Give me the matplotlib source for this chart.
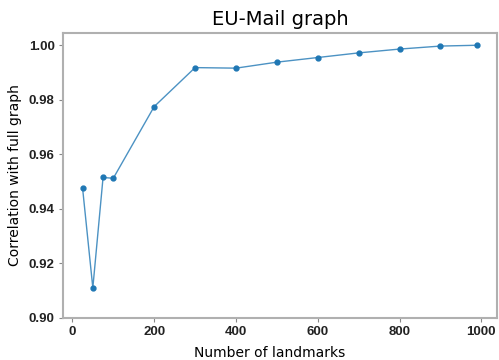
import numpy as np
import matplotlib.pyplot as plt

# landmark counts and correlation with the full graph
landmarks = [25, 50, 75, 100, 200, 300, 400, 500, 600, 700, 800, 900, 990]
correlation = [0.9475, 0.911, 0.9515, 0.9512, 0.9775, 0.9918, 0.9916,
               0.9938, 0.9955, 0.9972, 0.9986, 0.9997, 1.0]

fig = plt.figure(figsize=(4.99, 3.6), dpi=100)
ax = fig.add_axes([0.126, 0.117, 0.87, 0.791])

ax.plot(landmarks, correlation, '-', color='#1f77b4', lw=1, alpha=0.8)
ax.plot(landmarks, correlation, 'o', color='#1f77b4', ms=3.5)

ax.set_ylim(bottom=0.9)
ax.set_yticks([0.90, 0.92, 0.94, 0.96, 0.98, 1.00])
ax.set_xticks([0, 200, 400, 600, 800, 1000])
ax.tick_params(length=3, color='#888888', pad=3)
for lab in ax.get_xticklabels() + ax.get_yticklabels():
    lab.set_fontfamily('Liberation Sans')
    lab.set_fontweight('bold')
    lab.set_fontsize(9.5)
    lab.set_color('#222222')

for s in ax.spines.values():
    s.set_color('#b0b0b0')
    s.set_linewidth(1.5)

ax.set_title('EU-Mail graph', fontsize=14, pad=6)
ax.set_xlabel('Number of landmarks', fontsize=10)
ax.xaxis.set_label_coords(0.477, -0.098)
ax.set_ylabel('Correlation with full graph', fontsize=10, labelpad=4.5)

fig.savefig('out.png', dpi=100)
